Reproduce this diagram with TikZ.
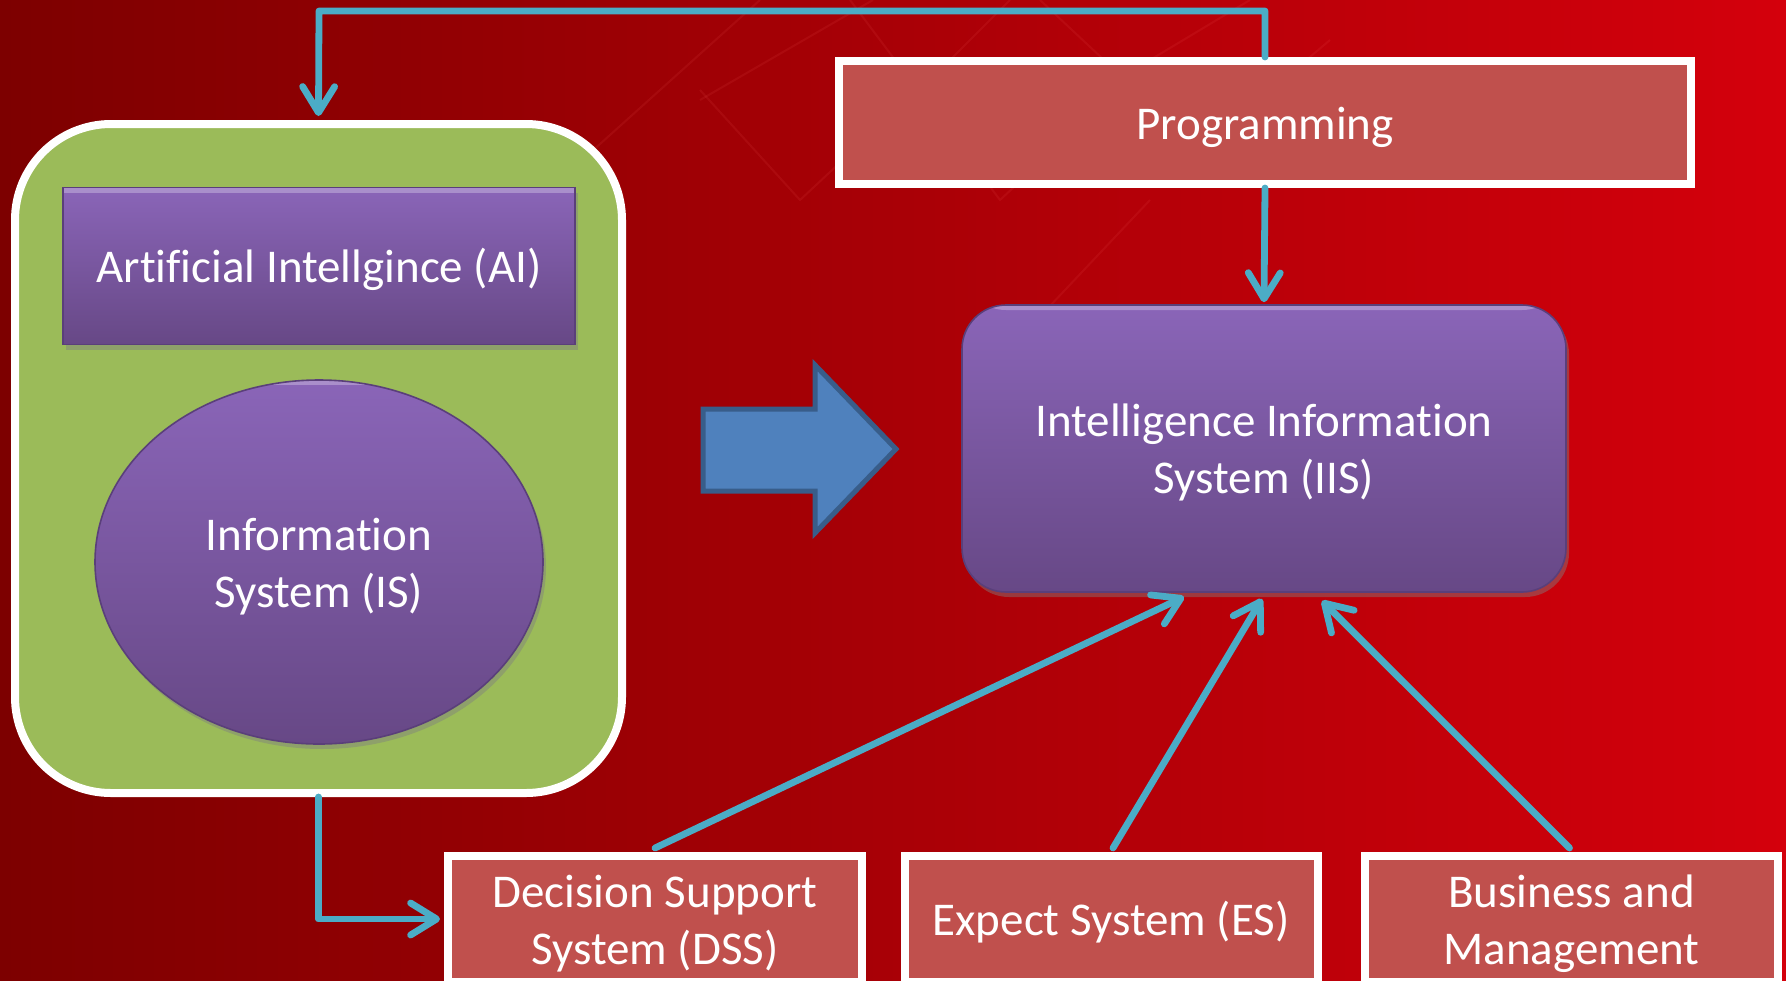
\documentclass[tikz,border=0pt]{standalone}
\usepackage{fontspec}
\setmainfont{Carlito}[Ligatures=CommonOff]
\usetikzlibrary{arrows.meta,shadows,shapes.geometric,calc}
\definecolor{conncol}{HTML}{4BACC6}
\definecolor{boxred}{HTML}{C0504D}
\definecolor{grnfill}{HTML}{9BBB59}
\definecolor{purtop}{HTML}{8A65B8}
\definecolor{purbot}{HTML}{674886}
\definecolor{purline}{HTML}{5A3F7A}
\definecolor{bgleft}{HTML}{7D0000}
\definecolor{bgright}{HTML}{D4000C}
\definecolor{blfill}{HTML}{4F81BD}
\definecolor{bldraw}{HTML}{385D8A}
\newcommand\dtxt{\fontsize{23.5}{28.5}\selectfont}
\newcommand\ntext[1]{\raisebox{-2.75pt}[\height][\depth]{\begin{tabular}{@{}c@{}}#1\end{tabular}}}
\begin{document}
\begin{tikzpicture}[x=0.5pt,y=-0.5pt,
  conn/.style={draw=conncol, line width=3.4pt, line cap=round, line join=round,
    -{Straight Barb[length=13pt,width=16pt,round]}},
  redbox/.style={draw=white, line width=4pt, fill=boxred, inner sep=0pt,
    align=center, font=\dtxt, text=white},
  purplebox/.style={shade, top color=purtop, bottom color=purbot, draw=purline,
    line width=0.8pt, text=white, align=center, font=\dtxt, inner sep=0pt,
    drop shadow={opacity=0.45, shadow xshift=1.5pt, shadow yshift=-2.5pt},
    path picture={\fill[white,opacity=0.28] ([yshift=1pt]path picture bounding box.north west) rectangle ([yshift=-2.5pt]path picture bounding box.north east);}},
  faint/.style={draw=red!60!white, opacity=0.1, line width=1pt}]
% background
\fill[left color=bgleft, right color=bgright] (0,0) rectangle (1786,980);
\useasboundingbox (0,0) rectangle (1786,980);
\draw[faint] (700,100) -- (873,0);
\draw[faint] (850,0) -- (1000,200) -- (1150,60) -- (1250,0);
\draw[faint] (700,90) -- (800,200) -- (950,60) -- (1010,0);
\draw[faint] (560,180) -- (760,0);
\draw[faint] (1040,0) -- (1200,150) -- (1330,40);
\draw[faint] (980,380) -- (1150,200);
% green container
\node[draw=white, line width=4pt, fill=grnfill, rounded corners=48pt,
  minimum width=303.5pt, minimum height=334.5pt, inner sep=0pt] (grn) at (318.5,458.5) {};
\node[purplebox, minimum width=256pt, minimum height=78.5pt] (ai) at (319,266) {\ntext{Artificial Intellgince (AI)}};
\node[purplebox, ellipse, minimum width=224pt, minimum height=182pt] (is) at (319,562) {\ntext{Information\\System (IS)}};
% right side
\node[redbox, minimum width=426pt, minimum height=61.5pt] (prog) at (1265,122.5) {\ntext{Programming}};
\node[purplebox, rounded corners=22pt, minimum width=302pt, minimum height=143.5pt] (iis) at (1264,448.5) {\ntext{Intelligence Information\\System (IIS)}};
\node[redbox, minimum width=207pt, minimum height=63pt] (dss) at (655,919) {\ntext{Decision Support\\System (DSS)}};
\node[redbox, minimum width=206.5pt, minimum height=63pt] (es) at (1111,919) {\ntext{Expect System (ES)}};
\node[redbox, minimum width=206.5pt, minimum height=63pt] (bm) at (1571.5,919) {\ntext{Business and\\Management}};
% block arrow
\draw[fill=blfill, draw=bldraw, line width=2.5pt, line join=miter]
  (703,409) -- (815,409) -- (815,365) -- (896,449) -- (815,533) -- (815,491) -- (703,491) -- cycle;
% connectors
\coordinate (tr) at (1265,11);
\coordinate (tl) at (319,11);
\draw[conn] (prog.north) -- (tr) -- (tl) -- ($(grn.north)+(0,-4)$);
\draw[conn] (prog.south) -- ($(iis.north)+(0,-2)$);
\draw[conn] (grn.south) |- ($(dss.west)+(-4,0)$);
\draw[conn] ($(dss.north)+(0,-4)$) -- ($(iis.south)+(-80,4)$);
\draw[conn] ($(es.north)+(2,-4)$) -- ($(iis.south)+(-2,6)$);
\draw[conn] ($(bm.north)+(-2,-4)$) -- ($(iis.south)+(58,8)$);
\end{tikzpicture}
\end{document}
